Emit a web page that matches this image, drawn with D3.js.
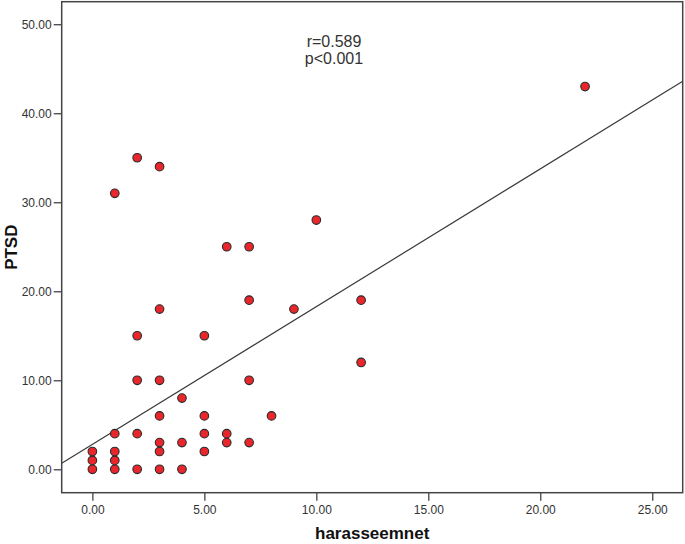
<!DOCTYPE html>
<html>
<head>
<meta charset="utf-8">
<script src="https://cdn.jsdelivr.net/npm/d3@7"></script>
<style>
  body { margin: 0; background: #fff; }
  text { font-family: "Liberation Sans", Arial, sans-serif; }
</style>
</head>
<body>
<div class="canvas"></div>
<script>
// data
const harassment = [0, 0, 0, 1, 1, 1, 1, 1, 2, 2, 2, 2, 2, 3, 3, 3, 3, 3, 3, 3, 4, 4, 4, 5, 5, 5, 5, 6, 6, 6, 7, 7, 7, 7, 8, 9, 10, 12, 12, 22];
const ptsd = [0, 1, 2, 0, 1, 2, 4, 31, 0, 4, 10, 15, 35, 0, 2, 3, 6, 10, 18, 34, 0, 3, 8, 2, 4, 6, 15, 3, 4, 25, 3, 10, 19, 25, 6, 18, 28, 12, 19, 43];
const xTicks = [0, 5, 10, 15, 20, 25];
const yTicks = [0, 10, 20, 30, 40, 50];
const fitIntercept = 2.79;
const fitSlope = 1.548;
const statLines = ["r=0.589", "p<0.001"];

// dimensions
const w = 685;
const h = 544;
const plot = { left: 61.7, right: 682.7, top: 1.7, bottom: 492.7 };

const svg = d3.select(".canvas").append("svg").attr("width", w).attr("height", h);

const x = d3.scaleLinear().domain([-1.37, 26.36]).range([plot.left, plot.right]);
const y = d3.scaleLinear().domain([-2.63, 52.53]).range([plot.bottom, plot.top]);

// axes
const xAxis = d3.axisBottom(x).tickValues(xTicks).tickFormat(d3.format(".2f")).tickSize(8).tickPadding(5);
const yAxis = d3.axisLeft(y).tickValues(yTicks).tickFormat(d3.format(".2f")).tickSize(8).tickPadding(2);

const gx = svg.append("g").attr("transform", `translate(0, ${plot.bottom})`).call(xAxis);
const gy = svg.append("g").attr("transform", `translate(${plot.left}, 0)`).call(yAxis);
[gx, gy].forEach((g) => {
  g.select(".domain").remove();
  g.selectAll(".tick line").attr("stroke", "#444").attr("stroke-width", 1.3);
  g.selectAll(".tick text").attr("fill", "#333").style("font-size", "12px").style("font-family", "'Liberation Sans', Arial, sans-serif");
});

// clip for the fit line
svg.append("clipPath").attr("id", "clip")
  .append("rect")
  .attr("x", plot.left).attr("y", plot.top)
  .attr("width", plot.right - plot.left).attr("height", plot.bottom - plot.top);

// fit line
const [x0, x1] = x.domain();
svg.append("line")
  .attr("clip-path", "url(#clip)")
  .attr("x1", x(x0)).attr("y1", y(fitIntercept + fitSlope * x0))
  .attr("x2", x(x1)).attr("y2", y(fitIntercept + fitSlope * x1))
  .attr("stroke", "#3a3a3a")
  .attr("stroke-width", 1.2);

// points
svg.append("g")
  .selectAll("circle")
  .data(harassment.map((d, i) => ({ x: d, y: ptsd[i] })))
  .enter()
  .append("circle")
  .attr("cx", (d) => x(d.x))
  .attr("cy", (d) => y(d.y))
  .attr("r", 4.3)
  .attr("fill", "#e8262b")
  .attr("stroke", "#2a2a2a")
  .attr("stroke-width", 1.1);

// frame
svg.append("rect")
  .attr("x", plot.left).attr("y", plot.top)
  .attr("width", plot.right - plot.left).attr("height", plot.bottom - plot.top)
  .attr("fill", "none")
  .attr("stroke", "#444")
  .attr("stroke-width", 1.5);

// correlation text
svg.append("g")
  .selectAll("text")
  .data(statLines)
  .enter()
  .append("text")
  .attr("x", 334)
  .attr("y", (d, i) => 47 + i * 16.5)
  .attr("text-anchor", "middle")
  .attr("fill", "#333")
  .style("font-size", "16px")
  .text((d) => d);

// axis titles
svg.append("text")
  .attr("x", (plot.left + plot.right) / 2)
  .attr("y", 539)
  .attr("text-anchor", "middle")
  .attr("fill", "#111")
  .style("font-size", "17px")
  .style("font-weight", "bold")
  .text("harasseemnet");

svg.append("text")
  .attr("transform", `translate(17, ${(plot.top + plot.bottom) / 2}) rotate(-90)`)
  .attr("text-anchor", "middle")
  .attr("fill", "#111")
  .style("font-size", "17px")
  .style("font-weight", "bold")
  .text("PTSD");
</script>
</body>
</html>
